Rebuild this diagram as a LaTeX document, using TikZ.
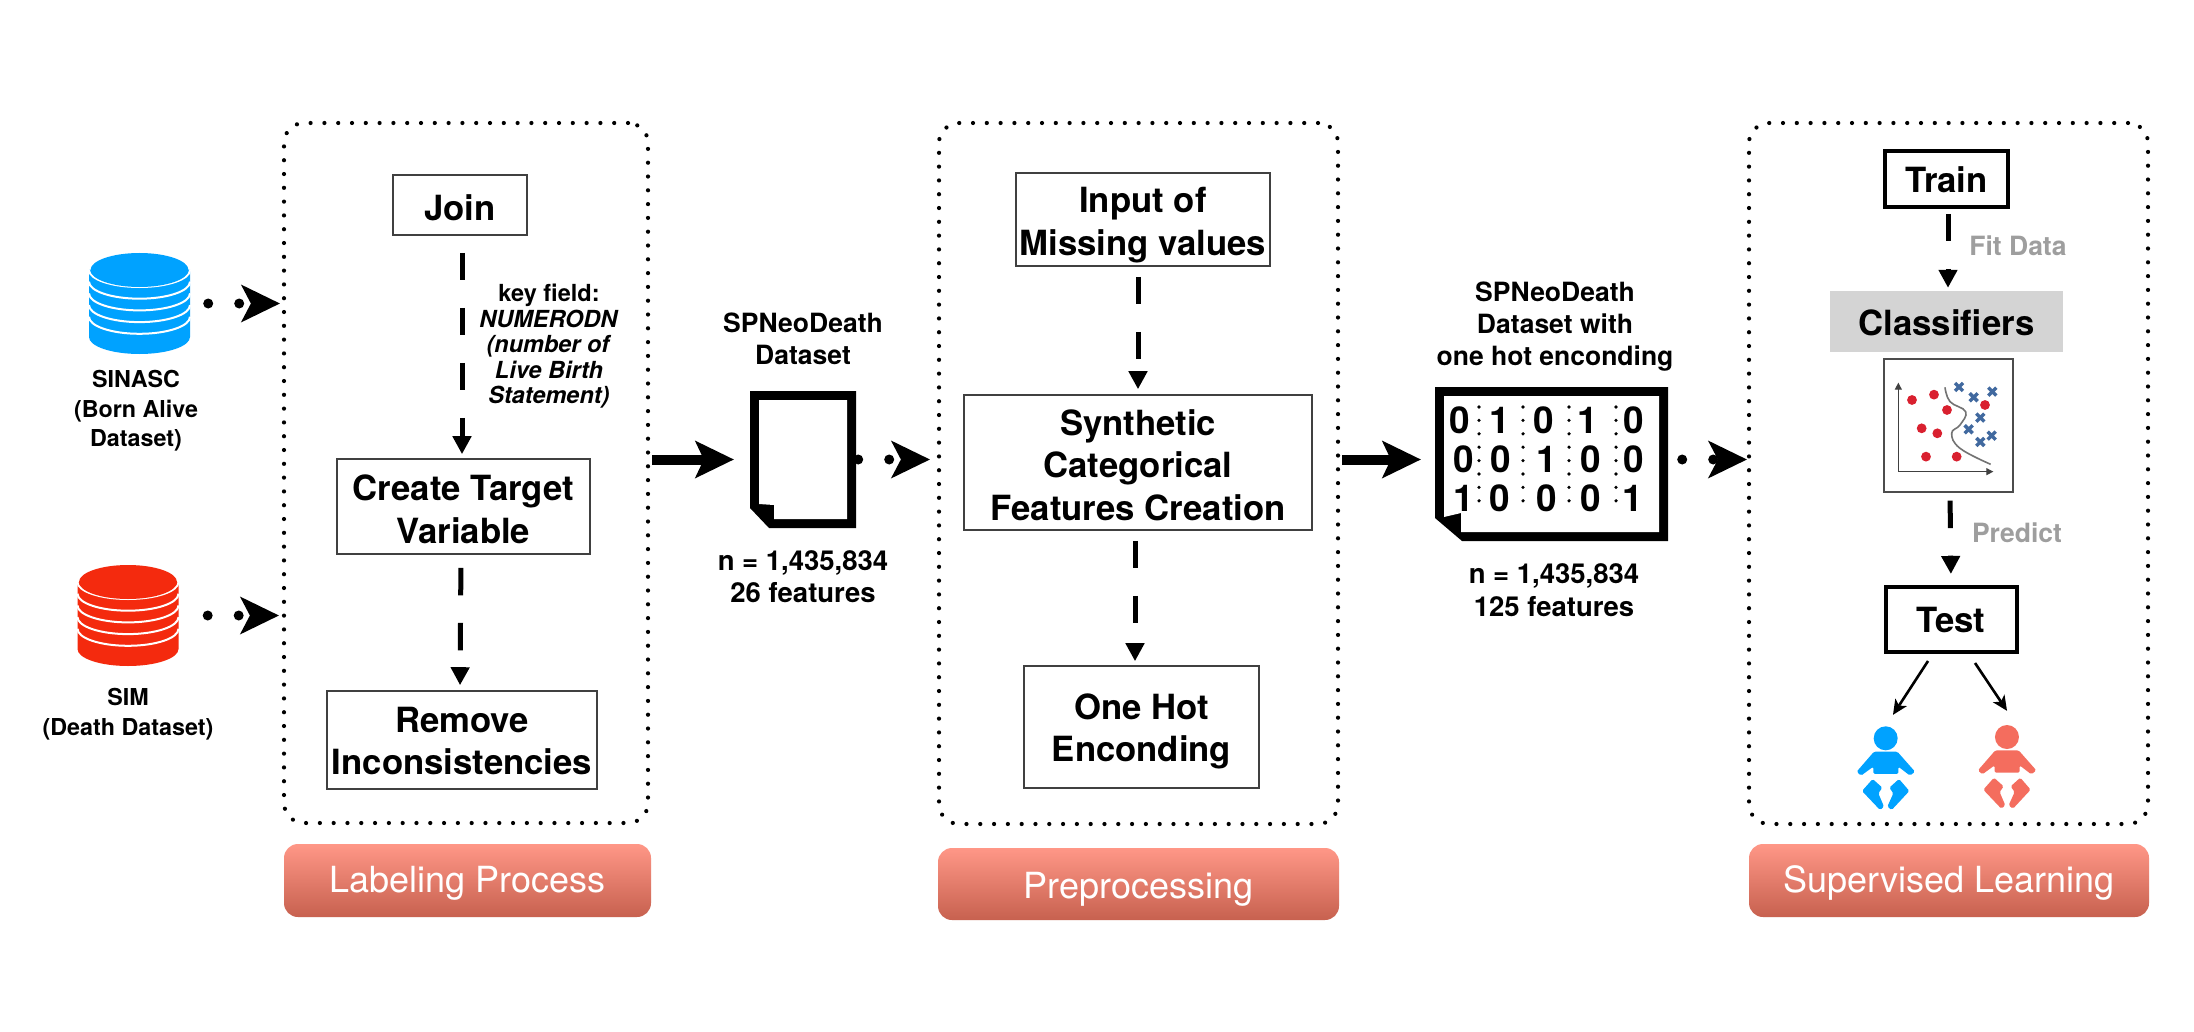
\documentclass[tikz,border=0pt]{standalone}
\usepackage{fontspec}
\setmainfont{TeX Gyre Heros}
\usetikzlibrary{arrows.meta,calc}
\definecolor{dbblue}{HTML}{00A2FF}
\definecolor{dbred}{HTML}{F42A0E}
\definecolor{babyred}{HTML}{F46D5E}
\definecolor{hdtop}{HTML}{FF9787}
\definecolor{hdbot}{HTML}{C7614F}
\definecolor{plotred}{HTML}{D9202F}
\definecolor{plotblue}{HTML}{41699F}
\newcommand{\lowr}[1]{\rule{0pt}{#1pt}}
\tikzset{
  panel/.style={draw=black,line width=4.2pt,line cap=round,dash pattern=on 0pt off 13.8pt,rounded corners=20pt,inner sep=0pt},
  header/.style={rounded corners=14pt,top color=hdtop,bottom color=hdbot,text=white,inner sep=0pt,font=\fontsize{36}{42}\selectfont},
  stepbox/.style={draw=black!75,line width=1.6pt,inner sep=0pt,align=center,font=\fontsize{34.7}{42.5}\selectfont\bfseries},
  thickbox/.style={draw=black,line width=4pt,inner sep=0pt,align=center,font=\fontsize{34.7}{42}\selectfont\bfseries},
  note/.style={inner sep=0pt,align=center,font=\fontsize{26.5}{32}\selectfont\bfseries},
  countnote/.style={inner sep=0pt,align=center,font=\fontsize{27.5}{32.5}\selectfont\bfseries},
  smallnote/.style={inner sep=0pt,align=center,font=\fontsize{23.3}{29.5}\selectfont\bfseries},
  keynote/.style={inner sep=0pt,align=center,font=\fontsize{23.5}{25.5}\selectfont\bfseries},
  graynote/.style={inner sep=0pt,text=black!38,font=\fontsize{26.5}{28}\selectfont\bfseries},
  digit/.style={inner sep=0pt,font=\fontsize{37}{37}\selectfont\bfseries},
  ghost/.style={inner sep=0pt},
  dashflow/.style={line width=5pt,dash pattern=on 27.5pt off 27.5pt,-{Triangle[length=18pt,width=18pt]}},
  dotflow/.style={line width=10pt,line cap=round,dash pattern=on 0pt off 31pt,-{Stealth[length=39pt,width=38pt,inset=10pt,line width=0pt]}},
  bigflow/.style={line width=10pt,-{Stealth[length=39pt,width=38pt,inset=9pt,line width=0pt]}},
  thinflow/.style={line width=2.6pt,-{Stealth[length=15pt,width=14pt,inset=4pt,line width=0pt]}},
  coldots/.style={line width=3.6pt,line cap=round,dash pattern=on 0pt off 13.4pt}
}
\newcommand{\dbicon}[3]{%
  \fill[#3] (#1-50.5,#2+17) -- (#1-50.5,#2+84) arc[start angle=180,end angle=0,x radius=50.5,y radius=17] -- (#1+50.5,#2+17) -- cycle;
  \foreach \k in {0,1,2,3,4}{
    \draw[white,line width=2pt] (#1-50.5,#2+17+\k*11.7) arc[start angle=180,end angle=0,x radius=50.5,y radius=17];
  }
  \fill[#3] (#1,#2+17) ellipse[x radius=49,y radius=17];
}
\newcommand{\babyicon}[3]{%
  \begin{scope}[shift={(#1,#2)},x=0.3333pt,y=-0.3333pt,rounded corners=1.5pt]
    \fill[#3] (257,355) circle[radius=12pt];
    \fill[#3] (222,395) -- (292,395) -- (345,455) -- (330,467) -- (295,440) -- (295,462) -- (220,462) -- (220,440) -- (183,467) -- (170,455) -- cycle;
    \fill[#3] (218,477) -- (247,503) -- (235,520) -- (252,560) -- (240,570) -- (186,513) -- cycle;
    \fill[#3] (297,477) -- (328,513) -- (275,570) -- (262,560) -- (280,520) -- (268,503) -- cycle;
  \end{scope}
}
\begin{document}
\begin{tikzpicture}[x=1pt,y=-1pt]
\useasboundingbox (0,0) rectangle (2194,1032);
\fill[white] (0,0) rectangle (2194,1032);

% panels
\node[panel,minimum width=364pt,minimum height=700pt] (box1) at (466,473) {};
\node[panel,minimum width=399pt,minimum height=701pt] (box2) at (1138.5,473.5) {};
\node[panel,minimum width=399pt,minimum height=701pt] (box3) at (1948.5,473.5) {};

% headers
\node[header,minimum width=367pt,minimum height=73pt] (h1) at (467.5,880.5) {\lowr{32}Labeling Process};
\node[header,minimum width=401pt,minimum height=72pt] (h2) at (1138.5,884) {\lowr{37}Preprocessing};
\node[header,minimum width=400pt,minimum height=73pt] (h3) at (1949,880.5) {\lowr{32}Supervised Learning};

% databases
\node[ghost,minimum width=101pt,minimum height=101pt] (sinasc) at (139.5,303.5) {};
\dbicon{139.5}{253}{dbblue}
\node[ghost,minimum width=101pt,minimum height=101pt] (sim) at (128,615.5) {};
\dbicon{128}{565}{dbred}
\node[smallnote] (tsinasc) at (136,411) {SINASC\\(Born Alive\\Dataset)};
\node[smallnote] (tsim) at (128,714) {SIM\\(Death Dataset)};

% labeling boxes
\node[stepbox,minimum width=134pt,minimum height=60pt] (join) at (460,205) {\lowr{31}Join};
\node[stepbox,minimum width=253pt,minimum height=95pt] (create) at (463.5,506.5) {\lowr{31}Create Target\\Variable};
\node[stepbox,minimum width=270pt,minimum height=98pt] (remove) at (462,740) {\lowr{27}Remove\\Inconsistencies};
\node[keynote] (key) at (549,346.5) {key field:\\\textit{NUMERODN}\\\textit{(number of}\\\textit{Live Birth}\\\textit{Statement)}};

% preprocessing boxes
\node[stepbox,minimum width=254pt,minimum height=93pt] (input) at (1143,219.5) {\lowr{37}Input of\\Missing values};
\node[stepbox,minimum width=348pt,minimum height=135pt] (synth) at (1138,462.5) {\lowr{31}Synthetic\\Categorical\\Features Creation};
\node[stepbox,minimum width=235pt,minimum height=122pt] (onehot) at (1141.5,727) {\lowr{35}One Hot\\Enconding};

% dataset icons
\node[ghost,minimum width=106pt,minimum height=137pt] (doc) at (803,459.5) {};
\fill[black] (750,391) -- (856,391) -- (856,528) -- (769,528) -- (750,508) -- cycle;
\fill[white] (759,400) -- (847,400) -- (847,519) -- (774,519) -- (774,505) -- (759,504) -- cycle;
\node[note] (tdoc) at (803,339) {SPNeoDeath\\Dataset};
\node[countnote] (ndoc) at (803,576.5) {n = 1,435,834\\26 features};

\node[ghost,minimum width=233pt,minimum height=154pt] (mat) at (1551.5,459.5) {};
\fill[black] (1435,387) -- (1668,387) -- (1668,541) -- (1462,541) -- (1435,518) -- cycle;
\fill[white] (1444,396) -- (1659,396) -- (1659,532) -- (1461,532) -- (1461,513) -- (1444,517) -- cycle;
\foreach \cx in {1479,1523,1569,1616}{
  \draw[coldots] (\cx,407) -- (\cx,513);
}
\node[digit] (m11) at (1460,420) {0};
\node[digit] (m12) at (1500,420) {1};
\node[digit] (m13) at (1544,420) {0};
\node[digit] (m14) at (1588,420) {1};
\node[digit] (m15) at (1634,420) {0};
\node[digit] (m21) at (1464,459) {0};
\node[digit] (m22) at (1501,459) {0};
\node[digit] (m23) at (1547,459) {1};
\node[digit] (m24) at (1591,459) {0};
\node[digit] (m25) at (1634,459) {0};
\node[digit] (m31) at (1464,498) {1};
\node[digit] (m32) at (1500,498) {0};
\node[digit] (m33) at (1547,498) {0};
\node[digit] (m34) at (1591,498) {0};
\node[digit] (m35) at (1633,498) {1};
\node[note] (tmat) at (1555,326.5) {SPNeoDeath\\Dataset with\\one hot enconding};
\node[countnote] (nmat) at (1554,590) {n = 1,435,834\\125 features};

% supervised learning
\node[thickbox,minimum width=123pt,minimum height=56pt] (train) at (1946.5,179) {\lowr{27}Train};
\node[inner sep=0pt,fill=black!17,minimum width=233pt,minimum height=61pt,font=\fontsize{34.7}{42}\selectfont\bfseries] (classif) at (1946.5,321.5) {\lowr{29}Classifiers};
\node[draw=black!70,line width=1.4pt,inner sep=0pt,minimum width=129pt,minimum height=133pt] (plot) at (1948.5,425.5) {};
\node[thickbox,minimum width=131pt,minimum height=65pt] (test) at (1951,619.5) {\lowr{27}Test};
\node[graynote] (fit) at (2018,246) {Fit Data};
\node[graynote] (pred) at (2017,533) {Predict};

\begin{scope}[shift={(1800,270)},x=0.3333pt,y=-0.3333pt]
  \draw[black!75,line width=1.2pt,-{Triangle[length=7pt,width=7pt]}] (295,605) -- (295,338);
  \draw[black!75,line width=1.2pt,-{Triangle[length=7pt,width=7pt]}] (295,605) -- (580,605);
  \draw[black!55,line width=1.6pt] plot[smooth,tension=0.7] coordinates {(435,352) (450,395) (497,425) (480,465) (455,490) (480,535) (572,583)};
  \foreach \px/\py in {336/390,402/374,441/420,365/475,412/490,378/560,470/560,555/405}{
    \fill[plotred] (\px,\py) circle[radius=4.9pt];
  }
  \foreach \px/\py in {477/351,521/382,577/365,541/443,506/478,541/516,575/497}{
    \draw[plotblue,line width=3.4pt] (\px-12,\py-12) -- (\px+12,\py+12) (\px-12,\py+12) -- (\px+12,\py-12);
  }
\end{scope}

\node[ghost,minimum width=58pt,minimum height=84pt] (babyb) at (1886,769) {};
\babyicon{1800}{620}{dbblue}
\node[ghost,minimum width=58pt,minimum height=84pt] (babyr) at (2007,767) {};
\babyicon{1921.3}{618.7}{babyred}

% connectors
\draw[dotflow,shorten <=18pt,shorten >=2pt] (sinasc.east) -- (sinasc.east -| box1.west);
\draw[dotflow,shorten <=29pt,shorten >=3pt] (sim.east) -- (sim.east -| box1.west);
\draw[dashflow,shorten <=17pt,shorten >=4pt] ([xshift=2pt]join.south) -- ([xshift=-1.5pt]create.north);
\draw[dashflow,shorten <=13pt,shorten >=5pt] ([xshift=-2.5pt]create.south) -- ([xshift=-2pt]remove.north);
\draw[bigflow,shorten <=2pt,shorten >=16pt] (doc.west -| box1.east) -- (doc.west);
\draw[dotflow,shorten <=2pt,shorten >=7pt] (doc.east) -- (doc.east -| box2.west);
\draw[dashflow,shorten <=10pt,shorten >=5pt] ([xshift=-5pt]input.south) -- ([xshift=0pt]synth.north);
\draw[dashflow,shorten <=10pt,shorten >=4pt] ([xshift=-3pt]synth.south) -- ([xshift=-6.5pt]onehot.north);
\draw[bigflow,shorten <=2pt,shorten >=14pt] (mat.west -| box2.east) -- (mat.west);
\draw[dotflow,shorten <=14pt,shorten >=0pt] (mat.east) -- (mat.east -| box3.west);
\draw[dashflow,shorten <=5pt,shorten >=3pt] ([xshift=1.5pt]train.south) -- ([xshift=1.5pt]classif.north);
\draw[dashflow,shorten <=8pt,shorten >=11pt] ([xshift=1.5pt]plot.south) -- (test.north);
\draw[thinflow] ([shift={(-23,7)}]test.south) -- ([shift={(7,-12)}]babyb.north);
\draw[thinflow] ([shift={(24,9)}]test.south) -- ([shift={(0,-14)}]babyr.north);
\end{tikzpicture}
\end{document}
